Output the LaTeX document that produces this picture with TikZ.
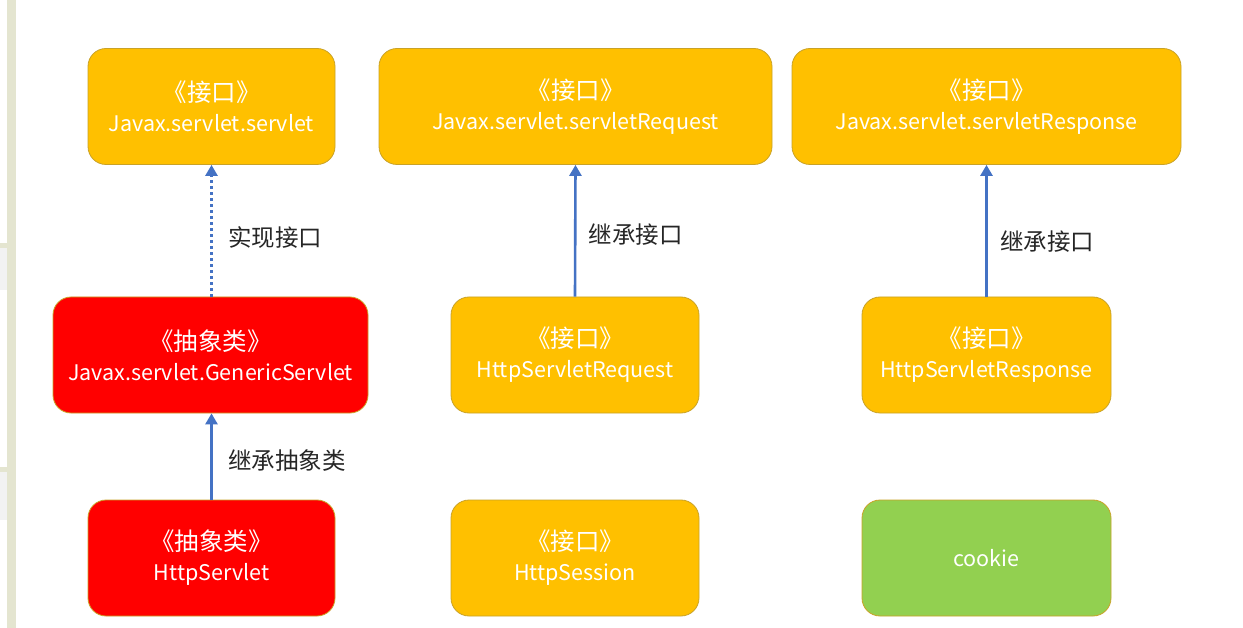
\documentclass[tikz,border=0pt]{standalone}
\usepackage{fontspec}
\setmainfont{Noto Sans CJK SC}
\usepackage{xcolor}
\usepackage{tikz}
\usetikzlibrary{arrows.meta, calc}

\definecolor{boxorange}{HTML}{FFC000}
\definecolor{boxred}{HTML}{FF0000}
\definecolor{boxgreen}{HTML}{92D050}
\definecolor{boxedge}{HTML}{C9A227}
\definecolor{linkblue}{HTML}{4472C4}
\definecolor{stripbeige}{HTML}{E4E5D0}

\tikzset{
    classbox/.style={draw=boxedge, line width=0.8pt, rounded corners=18pt,
        minimum height=116pt, align=center, text=white, font=\fontsize{21.5}{30}\selectfont},
    ifacebox/.style={classbox, fill=boxorange},
    abstractbox/.style={classbox, fill=boxred},
    plainbox/.style={classbox, fill=boxgreen},
    link/.style={draw=linkblue, line width=2.6pt, -{Triangle[length=11pt, width=12pt]}},
    linklabel/.style={font=\fontsize{23.5}{26}\selectfont, text=black!85, anchor=west}
}
\newcommand{\stereo}[1]{{\fontsize{24.5}{30}\selectfont 《#1》}}

\begin{document}
\begin{tikzpicture}[x=1pt, y=-1pt]
    \useasboundingbox (0,0) rectangle (1243,628);
    \fill[white] (0,0) rectangle (1243,628);
    \fill[stripbeige] (7,0) rectangle (16,628);
    \fill[black!5] (0,248) rectangle (7,290);
    \fill[black!5] (0,472) rectangle (7,520);
    \fill[stripbeige] (0,243) rectangle (7,248);
    \fill[stripbeige] (0,467) rectangle (7,472);

    \node[ifacebox, minimum width=247pt] (servlet) at (211.5,106.5) {\stereo{接口}\\Javax.servlet.servlet};
    \node[ifacebox, minimum width=393pt] (request) at (575.5,106.5) {\stereo{接口}\\Javax.servlet.servletRequest};
    \node[ifacebox, minimum width=389pt] (response) at (986.5,106.5) {\stereo{接口}\\Javax.servlet.servletResponse};

    \node[abstractbox, minimum width=315pt] (generic) at (210.5,355) {\stereo{抽象类}\\Javax.servlet.GenericServlet};
    \node[ifacebox, minimum width=248pt] (httprequest) at (575,355) {\stereo{接口}\\HttpServletRequest};
    \node[ifacebox, minimum width=249pt] (httpresponse) at (986.5,355) {\stereo{接口}\\HttpServletResponse};

    \node[abstractbox, minimum width=247pt] (httpservlet) at (211.5,558) {\stereo{抽象类}\\HttpServlet};
    \node[ifacebox, minimum width=248pt] (session) at (575,558) {\stereo{接口}\\HttpSession};
    \node[plainbox, minimum width=249pt] (cookie) at (986.5,558) {cookie};

    \draw[link, dash pattern=on 2.6pt off 3.4pt] (generic.north -| servlet.south) -- (servlet.south)
        node[linklabel, pos=0.45, xshift=12pt] {实现接口};
    \draw[link] (httprequest.north) -- (request.south)
        node[linklabel, pos=0.47, xshift=9pt] {继承接口};
    \draw[link] (httpresponse.north) -- (response.south)
        node[linklabel, pos=0.42, xshift=9pt] {继承接口};
    \draw[link] (httpservlet.north) -- (generic.south -| httpservlet.north)
        node[linklabel, pos=0.45, xshift=12pt] {继承抽象类};
\end{tikzpicture}
\end{document}
